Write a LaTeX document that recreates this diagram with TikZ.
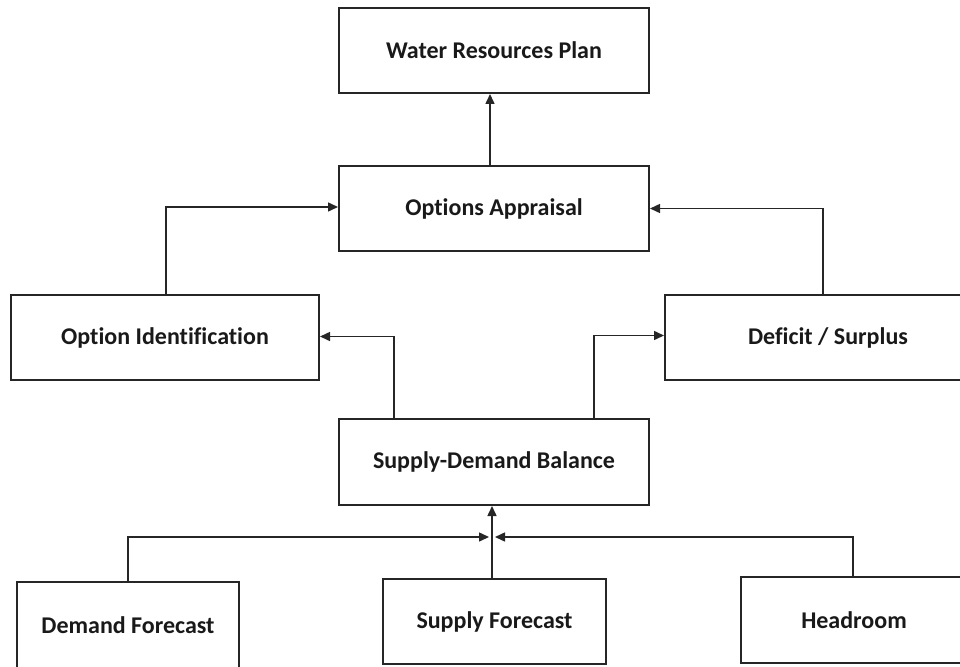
\documentclass[tikz,border=0pt]{standalone}
\usepackage{fontspec}
\setmainfont{Carlito}[Ligatures=NoCommon]
\usetikzlibrary{arrows.meta,calc}
\begin{document}
\begin{tikzpicture}[x=1pt,y=-1pt,
  box/.style={draw=black!85, line width=2pt, fill=white, inner sep=0pt,
    font=\fontsize{24}{28}\selectfont\bfseries, text=black!90},
  conn/.style={draw=black!85, line width=1.5pt,
    -{Triangle[length=10pt,width=9pt]}}]
\useasboundingbox (0,0) rectangle (960,666);
\node[box, minimum width=310pt, minimum height=85pt] (wrp) at (494,50.5) {Water Resources Plan};
\node[box, minimum width=310pt, minimum height=85pt] (oa) at (494,208.5) {Options Appraisal};
\node[box, minimum width=308pt, minimum height=85pt] (oi) at (165,337.5) {Option Identification};
\node[box, minimum width=326pt, minimum height=85pt] (ds) at (828,337.5) {Deficit / Surplus};
\node[box, minimum width=310pt, minimum height=86pt] (sdb) at (494,462) {Supply-Demand Balance};
\node[box, minimum width=222pt, minimum height=86pt] (df) at (128,625) {Demand Forecast};
\node[box, minimum width=223pt, minimum height=85pt] (sf) at (494.5,621.5) {Supply Forecast};
\node[box, minimum width=226pt, minimum height=86pt] (hr) at (854,620) {Headroom};
\coordinate (jl) at (489,537);
\coordinate (jr) at (495,537);
\draw[conn] ([xshift=-4pt]oa.north) -- ([xshift=-4pt]wrp.south);
\draw[conn] ([xshift=1pt]oi.north) |- ([yshift=1.5pt]oa.west);
\draw[conn] ([xshift=-5pt]ds.north) |- ([yshift=0pt]oa.east);
\draw[conn] ([xshift=-100pt]sdb.north) |- ([yshift=1pt]oi.east);
\draw[conn] ([xshift=100pt]sdb.north) |- ([yshift=2pt]ds.west);
\draw[conn] ([xshift=-2.5pt]sf.north) -- ([xshift=-2pt]sdb.south);
\draw[conn] (df.north) |- (jl);
\draw[conn] ([xshift=-1pt]hr.north) |- (jr);
\end{tikzpicture}
\end{document}
